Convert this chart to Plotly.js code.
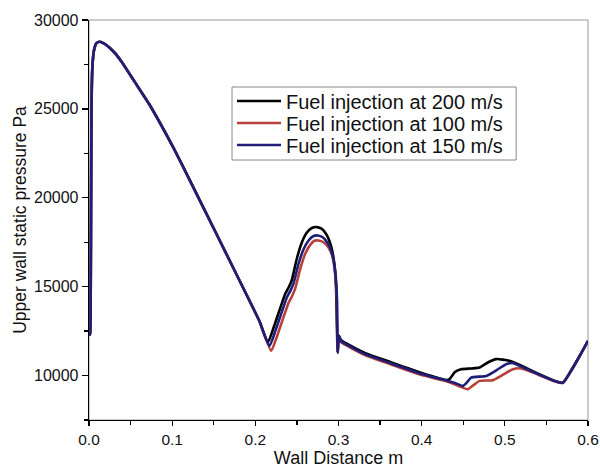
<!DOCTYPE html>
<html>
<head>
<meta charset="utf-8">
<script src="https://cdn.plot.ly/plotly-3.0.1.min.js"></script>
<style>html,body{margin:0;padding:0;background:#fff;}#chart{width:600px;height:468px;}</style>
</head>
<body>
<div id="chart"></div>
<script>
// Shared portion (all three curves overlap from 0 to ~0.21 m)
const xCommon = [0.000, 0.0015, 0.002, 0.0025, 0.003, 0.004, 0.006, 0.009, 0.013, 0.020, 0.030, 0.040, 0.055, 0.073, 0.100, 0.112, 0.153, 0.193, 0.205];
const yCommon = [12400, 12300, 14000, 20000, 25000, 27300, 28300, 28700, 28780, 28620, 28200, 27600, 26520, 25220, 22950, 21850, 17990, 14210, 13050];

// Fuel injection at 200 m/s
const x200 = [0.215, 0.222, 0.230, 0.236, 0.240, 0.244, 0.250, 0.256, 0.262, 0.268, 0.274, 0.280, 0.286, 0.291, 0.295, 0.297, 0.299, 0.3005, 0.303, 0.310, 0.333, 0.360, 0.400, 0.430, 0.4335, 0.440, 0.4475, 0.460, 0.4695, 0.480, 0.4896, 0.5056, 0.520, 0.540, 0.560, 0.5697, 0.580, 0.590, 0.600];
const y200 = [11860, 12700, 13800, 14600, 14950, 15400, 16600, 17500, 18050, 18300, 18350, 18250, 17900, 17300, 16300, 15000, 11300, 12250, 12000, 11800, 11250, 10800, 10150, 9750, 9800, 10200, 10360, 10400, 10450, 10750, 10925, 10830, 10550, 10100, 9700, 9600, 10300, 11100, 11950];

// Fuel injection at 100 m/s
const x100 = [0.219, 0.226, 0.234, 0.240, 0.244, 0.248, 0.254, 0.260, 0.266, 0.271, 0.276, 0.282, 0.288, 0.293, 0.296, 0.298, 0.299, 0.3005, 0.303, 0.310, 0.333, 0.360, 0.400, 0.430, 0.445, 0.4555, 0.462, 0.4695, 0.4855, 0.498, 0.5096, 0.520, 0.540, 0.560, 0.5697, 0.580, 0.590, 0.600];
const y100 = [11390, 12200, 13300, 14100, 14450, 14900, 16000, 16850, 17350, 17580, 17600, 17500, 17200, 16650, 15700, 14300, 11300, 12150, 11880, 11680, 11120, 10680, 10030, 9680, 9400, 9230, 9450, 9700, 9740, 10050, 10360, 10400, 10050, 9680, 9580, 10300, 11100, 11950];

// Fuel injection at 150 m/s
const x150 = [0.217, 0.224, 0.232, 0.238, 0.242, 0.246, 0.252, 0.258, 0.264, 0.270, 0.275, 0.281, 0.287, 0.292, 0.296, 0.298, 0.299, 0.3005, 0.303, 0.310, 0.333, 0.360, 0.400, 0.430, 0.440, 0.4495, 0.455, 0.4595, 0.4776, 0.490, 0.5016, 0.510, 0.520, 0.540, 0.560, 0.5697, 0.580, 0.590, 0.600];
const y150 = [11670, 12500, 13600, 14400, 14750, 15200, 16300, 17100, 17600, 17850, 17880, 17780, 17450, 16900, 15900, 14500, 11300, 12200, 11940, 11740, 11180, 10740, 10090, 9720, 9580, 9420, 9650, 9886, 9980, 10300, 10640, 10700, 10500, 10080, 9690, 9590, 10300, 11100, 11950];

const names = ['Fuel injection at 200 m/s', 'Fuel injection at 100 m/s', 'Fuel injection at 150 m/s'];
const colors = ['#000000', '#b8403a', '#1e1e78'];
const legendIds = ['legend', 'legend2', 'legend3'];

const xs = [xCommon.concat(x200), xCommon.concat(x100), xCommon.concat(x150)];
const ys = [yCommon.concat(y200), yCommon.concat(y100), yCommon.concat(y150)];

const traces = names.map((n, i) => ({
  x: xs[i], y: ys[i], name: n, type: 'scatter', mode: 'lines',
  legend: legendIds[i],
  line: {color: colors[i], width: 2.6, shape: 'spline', smoothing: 0.5}
}));

const font = {family: 'Liberation Sans, Arial, sans-serif', color: '#111', size: 16};

// one legend per row, so rows can sit as tightly as in the reference
const legendRowY = [0.7975, 0.7425, 0.6875];
function legendAt(y) {
  return {
    x: 0.2866, y: y, xanchor: 'left', yanchor: 'middle',
    bgcolor: 'rgba(0,0,0,0)', borderwidth: 0,
    font: {family: font.family, size: 20, color: '#111'},
    itemwidth: 44
  };
}

const layout = {
  width: 600, height: 468,
  margin: {l: 89, r: 12, t: 20, b: 48},
  paper_bgcolor: '#fff', plot_bgcolor: '#fff',
  font: font,
  showlegend: true,
  legend: legendAt(legendRowY[0]),
  legend2: legendAt(legendRowY[1]),
  legend3: legendAt(legendRowY[2]),
  xaxis: {
    range: [0, 0.6], dtick: 0.1, tick0: 0, tickformat: '.1f',
    showgrid: false, zeroline: false,
    showline: true, linecolor: '#000', linewidth: 1.3,
    ticks: 'outside', ticklen: 5, tickwidth: 1.3, tickcolor: '#000',
    minor: {dtick: 0.05, ticks: 'outside', ticklen: 4, tickwidth: 1.3, tickcolor: '#000', showgrid: false},
    tickfont: {size: 15.5},
    title: {text: 'Wall Distance m', font: {size: 18}, standoff: 2}
  },
  yaxis: {
    range: [7500, 30000], dtick: 5000, tick0: 0, tickformat: 'd',
    showgrid: false, zeroline: false,
    showline: true, linecolor: '#000', linewidth: 1.3,
    ticks: 'outside', ticklen: 6, tickwidth: 1.3, tickcolor: '#000',
    minor: {dtick: 2500, ticks: 'outside', ticklen: 4, tickwidth: 1.3, tickcolor: '#000', showgrid: false},
    tickfont: {size: 16},
    title: {text: 'Upper wall static pressure Pa', font: {size: 17.5}, standoff: 3}
  },
  shapes: [
    {type: 'rect', xref: 'paper', yref: 'paper', x0: 0, x1: 1, y0: 0, y1: 1,
     line: {color: '#999', width: 1}, layer: 'below'},
    {type: 'rect', xref: 'paper', yref: 'paper', x0: 0.2866, x1: 0.856, y0: 0.65, y1: 0.8325,
     line: {color: '#888', width: 1}, fillcolor: '#fff', layer: 'below'}
  ]
};

Plotly.newPlot('chart', traces, layout, {displayModeBar: false, staticPlot: true});
</script>
</body>
</html>
